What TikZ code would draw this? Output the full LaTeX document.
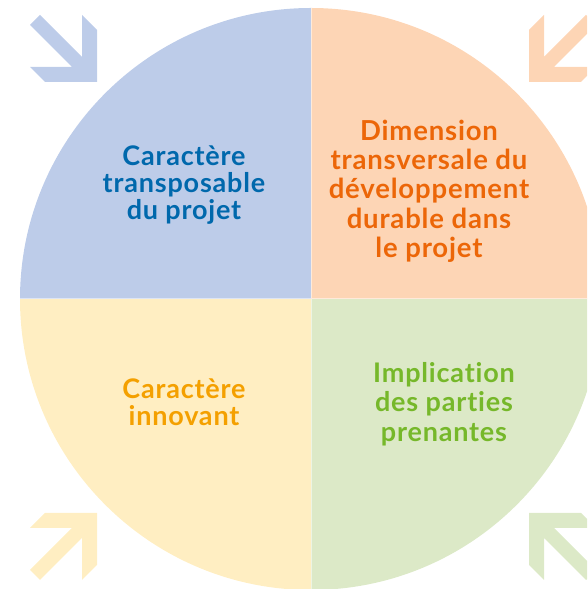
\documentclass[tikz,border=0pt]{standalone}
\usepackage{fontspec}
\newfontfamily\labfont{Lato}[LetterSpace=3, Ligatures={NoCommon,NoRare,NoContextual}]
\definecolor{qblue}{RGB}{189,204,233}
\definecolor{qorange}{RGB}{253,213,181}
\definecolor{qyellow}{RGB}{255,238,194}
\definecolor{qgreen}{RGB}{220,233,199}
\definecolor{tblue}{RGB}{0,104,172}
\definecolor{torange}{RGB}{236,102,8}
\definecolor{tyellow}{RGB}{244,160,0}
\definecolor{tgreen}{RGB}{118,184,42}
\tikzset{
  lab/.style={align=center, inner sep=0pt, font=\labfont\bfseries\fontsize{27}{27}\selectfont},
}
\newcommand{\cornerarrow}{(-273,282.5) -- (-231,240.5) -- (-231,282.5) -- (-216,267.5) -- (-216,215.5) -- (-268,215.5) -- (-283,230.5) -- (-241,230.5) -- (-283,272.5) -- cycle}
\begin{document}
\begin{tikzpicture}[x=1pt,y=1pt]
\useasboundingbox (0,0) rectangle (587,589);
\clip (0,0) rectangle (587,589);
% quadrants
\begin{scope}
\clip (311,290) circle (291);
\fill[qblue] (311,290) rectangle (0,589);
\fill[qorange] (311,290) rectangle (620,589);
\fill[qyellow] (311,290) rectangle (0,-10);
\fill[qgreen] (311,290) rectangle (620,-10);
\draw[white, opacity=0.5, line width=1pt] (311,-10) -- (311,600) (0,290) -- (620,290);
\end{scope}
% arrows
\begin{scope}[shift={(313,291.5)}]
\fill[qblue] \cornerarrow;
\fill[qorange, xscale=-1] \cornerarrow;
\fill[qyellow, yscale=-1] \cornerarrow;
\fill[qgreen, xscale=-1, yscale=-1] \cornerarrow;
\end{scope}
% labels
\node[lab, text=tblue] (tl) at (184,404) {Caractère\\transposable\\du projet};
\node[lab, text=torange, font=\labfont\bfseries\fontsize{27.5}{29.3}\selectfont] (tr) at (429,398) {Dimension\\transversale du\\développement\\durable dans\\le projet};
\node[lab, text=tyellow] (bl) at (184,187) {Caractère\\innovant};
\node[lab, text=tgreen, font=\labfont\bfseries\fontsize{27}{29.5}\selectfont] (br) at (444,185) {Implication\\des parties\\prenantes};
\end{tikzpicture}
\end{document}
